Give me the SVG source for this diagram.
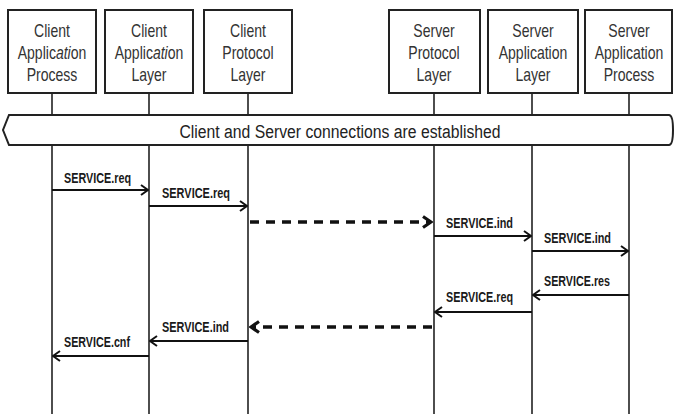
<svg xmlns="http://www.w3.org/2000/svg" width="675" height="414" viewBox="0 0 675 414">
  <style>
    .box { fill: #fff; stroke: #222; stroke-width: 2; }
    .lbl { font-family: "Liberation Sans", Arial, sans-serif; font-size: 18px; fill: #333; text-anchor: middle; }
    .life { stroke: #222; stroke-width: 1.6; fill: none; }
    .msg { stroke: #111; stroke-width: 2; fill: none; }
    .dash { stroke: #111; stroke-width: 3.5; stroke-dasharray: 9 7; fill: none; }
    .mtxt { font-family: "Liberation Sans", Arial, sans-serif; font-size: 15.5px; font-weight: bold; fill: #1a1a1a; }
    .banner { fill: #fff; stroke: #222; stroke-width: 2; }
    .btxt { font-family: "Liberation Sans", Arial, sans-serif; font-size: 18px; fill: #222; text-anchor: middle; }
  </style>
  <defs>
    <marker id="head" viewBox="0 0 10 12" refX="9" refY="6" markerWidth="10" markerHeight="12" markerUnits="userSpaceOnUse" orient="auto">
      <path d="M2,1 L9,6 L2,11" fill="none" stroke="#111" stroke-width="2"/>
    </marker>
    <marker id="headBold" viewBox="0 0 12 14" refX="10" refY="7" markerWidth="12" markerHeight="14" markerUnits="userSpaceOnUse" orient="auto">
      <path d="M2,1.5 L10,7 L2,12.5" fill="none" stroke="#111" stroke-width="3.2"/>
    </marker>
  </defs>

  <!-- lifelines -->
  <g id="lifelines">
    <path class="life" d="M52,93 V414 M149,93 V414 M248,93 V414 M434,93 V414 M532,93 V414 M629,93 V414"/>
  </g>

  <!-- participant boxes (labels drawn narrow via horizontal scale) -->
  <g id="client-app-process">
    <rect class="box" x="8" y="10" width="88" height="83"/>
    <g transform="translate(52 0) scale(0.78 1)">
      <text class="lbl" x="0" y="37">Client</text>
      <text class="lbl" x="0" y="59">Applic<tspan font-style="italic">ati</tspan>on</text>
      <text class="lbl" x="0" y="81">Process</text>
    </g>
  </g>
  <g id="client-app-layer">
    <rect class="box" x="105" y="10" width="88" height="83"/>
    <g transform="translate(149 0) scale(0.78 1)">
      <text class="lbl" x="0" y="37">Client</text>
      <text class="lbl" x="0" y="59">Applic<tspan font-style="italic">ati</tspan>on</text>
      <text class="lbl" x="0" y="81">Layer</text>
    </g>
  </g>
  <g id="client-protocol-layer">
    <rect class="box" x="204" y="10" width="88" height="83"/>
    <g transform="translate(248 0) scale(0.78 1)">
      <text class="lbl" x="0" y="37">Client</text>
      <text class="lbl" x="0" y="59">Protocol</text>
      <text class="lbl" x="0" y="81">Layer</text>
    </g>
  </g>
  <g id="server-protocol-layer">
    <rect class="box" x="389" y="10" width="91" height="83"/>
    <g transform="translate(434 0) scale(0.78 1)">
      <text class="lbl" x="0" y="37">Server</text>
      <text class="lbl" x="0" y="59">Protocol</text>
      <text class="lbl" x="0" y="81">Layer</text>
    </g>
  </g>
  <g id="server-app-layer">
    <rect class="box" x="488" y="10" width="90" height="83"/>
    <g transform="translate(533 0) scale(0.78 1)">
      <text class="lbl" x="0" y="37">Server</text>
      <text class="lbl" x="0" y="59">Application</text>
      <text class="lbl" x="0" y="81">Layer</text>
    </g>
  </g>
  <g id="server-app-process">
    <rect class="box" x="585" y="10" width="87" height="83"/>
    <g transform="translate(629 0) scale(0.78 1)">
      <text class="lbl" x="0" y="37">Server</text>
      <text class="lbl" x="0" y="59">Application</text>
      <text class="lbl" x="0" y="81">Process</text>
    </g>
  </g>

  <!-- connection banner -->
  <g id="banner">
    <path class="banner" d="M9,115 H669 Q673,115 673,130 Q673,145 669,145 H9 L3,130 Z"/>
    <text class="btxt" x="340" y="138" textLength="321" lengthAdjust="spacingAndGlyphs">Client and Server connections are established</text>
  </g>

  <!-- messages -->
  <g id="connectors">
    <line class="msg" x1="52" y1="190" x2="148" y2="190" marker-end="url(#head)"/>
    <line class="msg" x1="149" y1="206" x2="247" y2="206" marker-end="url(#head)"/>
    <line class="dash" x1="250" y1="222" x2="431" y2="222" marker-end="url(#headBold)"/>
    <line class="msg" x1="434" y1="236" x2="531" y2="236" marker-end="url(#head)"/>
    <line class="msg" x1="532" y1="251" x2="628" y2="251" marker-end="url(#head)"/>
    <line class="msg" x1="629" y1="295" x2="533" y2="295" marker-end="url(#head)"/>
    <line class="msg" x1="532" y1="312" x2="435" y2="312" marker-end="url(#head)"/>
    <line class="dash" x1="432" y1="327" x2="251" y2="327" marker-end="url(#headBold)"/>
    <line class="msg" x1="248" y1="341" x2="150" y2="341" marker-end="url(#head)"/>
    <line class="msg" x1="149" y1="356" x2="53" y2="356" marker-end="url(#head)"/>
  </g>

  <!-- message labels -->
  <g id="message-labels">
    <text class="mtxt" x="64" y="183" textLength="67" lengthAdjust="spacingAndGlyphs">SERVICE.req</text>
    <text class="mtxt" x="162" y="198" textLength="68" lengthAdjust="spacingAndGlyphs">SERVICE.req</text>
    <text class="mtxt" x="446" y="228" textLength="67" lengthAdjust="spacingAndGlyphs">SERVICE.ind</text>
    <text class="mtxt" x="544" y="243" textLength="67" lengthAdjust="spacingAndGlyphs">SERVICE.ind</text>
    <text class="mtxt" x="544" y="286" textLength="66" lengthAdjust="spacingAndGlyphs">SERVICE.res</text>
    <text class="mtxt" x="446" y="302" textLength="67" lengthAdjust="spacingAndGlyphs">SERVICE.req</text>
    <text class="mtxt" x="162" y="332" textLength="67" lengthAdjust="spacingAndGlyphs">SERVICE.ind</text>
    <text class="mtxt" x="64" y="347" textLength="66" lengthAdjust="spacingAndGlyphs">SERVICE.cnf</text>
  </g>
</svg>
